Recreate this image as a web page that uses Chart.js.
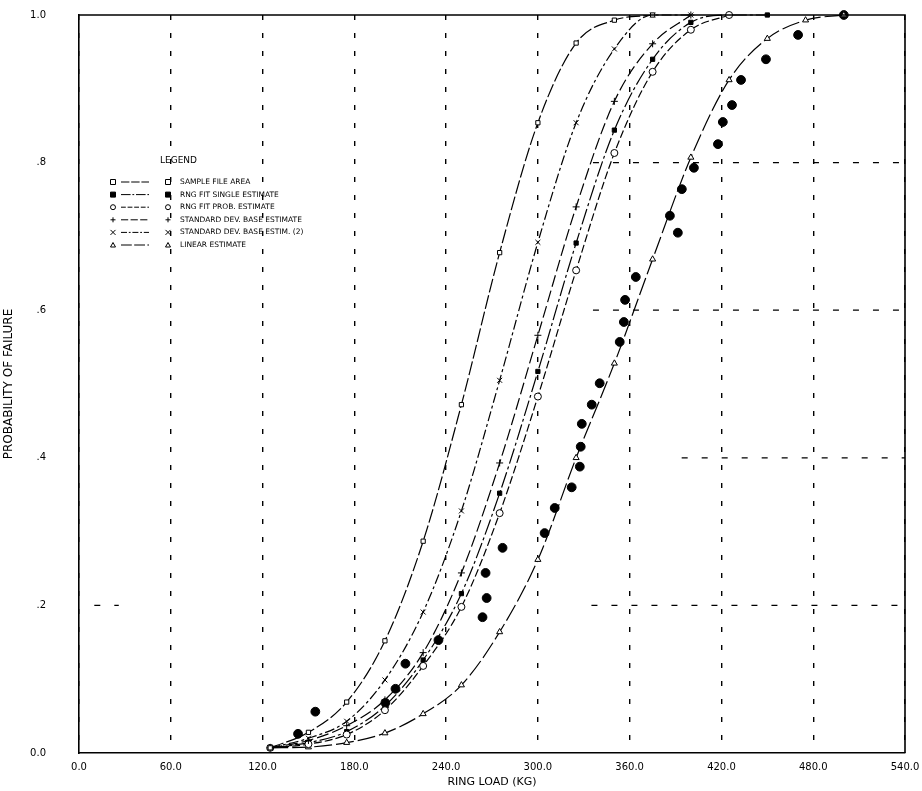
<!DOCTYPE html>
<html><head><meta charset="utf-8">
<script src="https://cdn.jsdelivr.net/npm/chart.js@4/dist/chart.umd.min.js"></script>
<style>html,body{margin:0;padding:0;background:#fff;overflow:hidden}</style>
</head><body>
<canvas id="c" width="922" height="791"></canvas>
<script>
// ---- data ----
const loads = [125,150,175,200,225,250,275,300,325,350,375,400,425,450,475,500];
const seriesA = [0.007,0.028,0.069,0.152,0.287,0.472,0.678,0.854,0.962,0.993,1.0];
const seriesB = [0.007,0.020,0.043,0.099,0.191,0.328,0.505,0.692,0.854,0.954,1.0,1.0];
const seriesC = [0.007,0.017,0.037,0.072,0.136,0.244,0.393,0.566,0.740,0.883,0.961,1.0];
const seriesD = [0.007,0.014,0.029,0.064,0.126,0.216,0.352,0.517,0.691,0.844,0.940,0.990,1.0,1.0];
const seriesE = [0.007,0.012,0.025,0.058,0.118,0.198,0.325,0.483,0.654,0.813,0.923,0.980,1.0];
const seriesF = [0.007,0.008,0.014,0.027,0.053,0.092,0.164,0.262,0.400,0.528,0.669,0.807,0.912,0.968,0.993,1.0];
const sampleLoad = [143.2,154.5,200.3,206.9,213.4,235.0,263.8,266.5,265.8,276.9,304.4,311.0,322.1,327.4,328.0,328.7,335.2,340.4,353.5,356.2,357.0,364.0,386.3,391.5,394.1,402.0,417.7,420.9,426.9,432.8,449.1,470.1,500.0];
const sampleProb = [0.026,0.056,0.068,0.087,0.121,0.153,0.184,0.210,0.244,0.278,0.298,0.332,0.360,0.388,0.415,0.446,0.472,0.501,0.557,0.584,0.614,0.645,0.728,0.705,0.764,0.793,0.825,0.855,0.878,0.912,0.940,0.973,1.0];
const xTickLabels = ['0.0','60.0','120.0','180.0','240.0','300.0','360.0','420.0','480.0','540.0'];
const yTickLabels = ['0.0','.2','.4','.6','.8','1.0'];
const legendTexts = ['SAMPLE FILE AREA','RNG FIT SINGLE ESTIMATE','RNG FIT PROB. ESTIMATE','STANDARD DEV. BASE ESTIMATE','STANDARD DEV. BASE ESTIM. (2)','LINEAR ESTIMATE'];
// partial horizontal grid lines (probability level, load from, load to)
const hGridLevel = [0.8,0.6,0.4,0.2,0.2];
const hGridFrom  = [336,336,394,335,10];
const hGridTo    = [540,540,540,540,26];

const FONT = '"DejaVu Sans", sans-serif';
const pts = (vals) => vals.map((v,i)=>({x:loads[i], y:v}));

function curve(label, vals, style, filled, dash, legendIdx){
  return {label, data: pts(vals), borderColor:'#000', borderWidth:1.2, borderDash:dash,
    pointStyle:style, pointRadius: style==='rect'?3:3.5, pointBorderWidth:1, pointBorderColor:'#000',
    pointBackgroundColor: filled?'#000':'#fff', cubicInterpolationMode:'monotone', fill:false,
    clip:false, legendIdx};
}
const datasets = [
  curve(legendTexts[0], seriesA, 'rect', false, [14,3], 0),
  curve(legendTexts[4], seriesB, 'crossRot', false, [10,3,3,3], 4),
  curve(legendTexts[3], seriesC, 'cross', false, [12,4], 3),
  curve(legendTexts[2], seriesE, 'circle', false, [8,3], 2),
  curve(legendTexts[1], seriesD, 'rect', true, [16,3,3,3], 1),
  curve(legendTexts[5], seriesF, 'triangle', false, [18,4], 5),
  {label:'SAMPLE', data: sampleLoad.map((x,i)=>({x, y:sampleProb[i]})), showLine:false,
   pointStyle:'circle', pointRadius:4.4, pointBackgroundColor:'#000', pointBorderColor:'#000', borderColor:'#000', clip:false}
];

function drawMarker(ctx, style, x, y, r, filled){
  ctx.save(); ctx.lineWidth=1; ctx.strokeStyle='#000'; ctx.fillStyle = filled?'#000':'#fff';
  ctx.setLineDash([]);
  ctx.beginPath();
  if(style==='rect'){ ctx.rect(x-r,y-r,2*r,2*r); ctx.fill(); ctx.stroke(); }
  else if(style==='circle'){ ctx.arc(x,y,r,0,Math.PI*2); ctx.fill(); ctx.stroke(); }
  else if(style==='triangle'){ ctx.moveTo(x,y-r); ctx.lineTo(x+r,y+r*0.8); ctx.lineTo(x-r,y+r*0.8); ctx.closePath(); ctx.fill(); ctx.stroke(); }
  else if(style==='cross'){ ctx.moveTo(x-r,y); ctx.lineTo(x+r,y); ctx.moveTo(x,y-r); ctx.lineTo(x,y+r); ctx.stroke(); }
  else if(style==='crossRot'){ ctx.moveTo(x-r,y-r); ctx.lineTo(x+r,y+r); ctx.moveTo(x+r,y-r); ctx.lineTo(x-r,y+r); ctx.stroke(); }
  ctx.restore();
}

const framePlugin = {
  id:'frame',
  beforeDatasetsDraw(chart){
    const {ctx, scales:{x,y}} = chart;
    ctx.save(); ctx.strokeStyle='#000'; ctx.lineWidth=1.3; ctx.setLineDash([6,14]);
    hGridLevel.forEach((lv,i)=>{
      const py = y.getPixelForValue(lv);
      ctx.beginPath(); ctx.moveTo(x.getPixelForValue(hGridFrom[i]),py); ctx.lineTo(x.getPixelForValue(hGridTo[i]),py); ctx.stroke();
    });
    ctx.restore();
  },
  afterDatasetsDraw(chart){
    const {ctx, chartArea:ca} = chart;
    ctx.save(); ctx.strokeStyle='#000'; ctx.lineWidth=1.6; ctx.setLineDash([]);
    ctx.beginPath(); ctx.moveTo(ca.left,ca.top); ctx.lineTo(ca.right,ca.top); ctx.lineTo(ca.right,ca.bottom); ctx.stroke();
    // legend
    ctx.fillStyle='#000'; ctx.textBaseline='middle'; ctx.textAlign='left';
    ctx.font = '9px '+FONT;
    ctx.fillText('LEGEND', ca.left+81, ca.top+146);
    ctx.font = '7.5px '+FONT;
    const ds = chart.data.datasets.filter(d=>d.legendIdx!==undefined).sort((a,b)=>a.legendIdx-b.legendIdx);
    ds.forEach((d,i)=>{
      const yy = ca.top+167+i*12.6;
      const filled = d.pointBackgroundColor==='#000';
      drawMarker(ctx, d.pointStyle, ca.left+34, yy, 2.5, filled);
      ctx.save(); ctx.lineWidth=1; ctx.strokeStyle='#000'; ctx.setLineDash(d.borderDash.map(v=>v*0.6));
      ctx.beginPath(); ctx.moveTo(ca.left+42,yy); ctx.lineTo(ca.left+70,yy); ctx.stroke(); ctx.restore();
      drawMarker(ctx, d.pointStyle, ca.left+89, yy, 2.5, filled);
      ctx.fillText(d.label, ca.left+101, yy);
    });
    ctx.restore();
  }
};

new Chart(document.getElementById('c'), {
  type:'line',
  data:{datasets},
  plugins:[framePlugin],
  options:{
    responsive:false, animation:false, devicePixelRatio:1,
    layout:{padding:{top:15,right:17,left:0,bottom:0}},
    plugins:{legend:{display:false}, tooltip:{enabled:false}},
    scales:{
      x:{type:'linear', min:0, max:540,
        ticks:{stepSize:60, autoSkip:false, maxRotation:0, color:'#000', font:{family:FONT,size:10}, padding:8,
          callback:(v,i)=>xTickLabels[i]},
        grid:{color:'#000', lineWidth:1.4, drawTicks:false},
        border:{display:true, color:'#000', width:1.6, dash:[5,13]},
        title:{display:true, text:'RING LOAD (KG)', color:'#000', font:{family:FONT,size:11}, padding:{top:2,bottom:2}},
        afterFit:(s)=>{s.height=38; s.paddingRight=0; s.paddingLeft=0;}
      },
      y:{min:0, max:1,
        ticks:{stepSize:0.2, color:'#000', font:{family:FONT,size:10}, padding:33,
          callback:(v,i)=>yTickLabels[i]},
        grid:{display:false, drawTicks:false},
        border:{display:true, color:'#000', width:1.6},
        title:{display:true, text:'PROBABILITY OF FAILURE', color:'#000', font:{family:FONT,size:12}, padding:{top:2,bottom:2}},
        afterFit:(s)=>{s.width=79; s.paddingTop=5; s.paddingBottom=5;}
      }
    }
  }
});
</script>
</body></html>
